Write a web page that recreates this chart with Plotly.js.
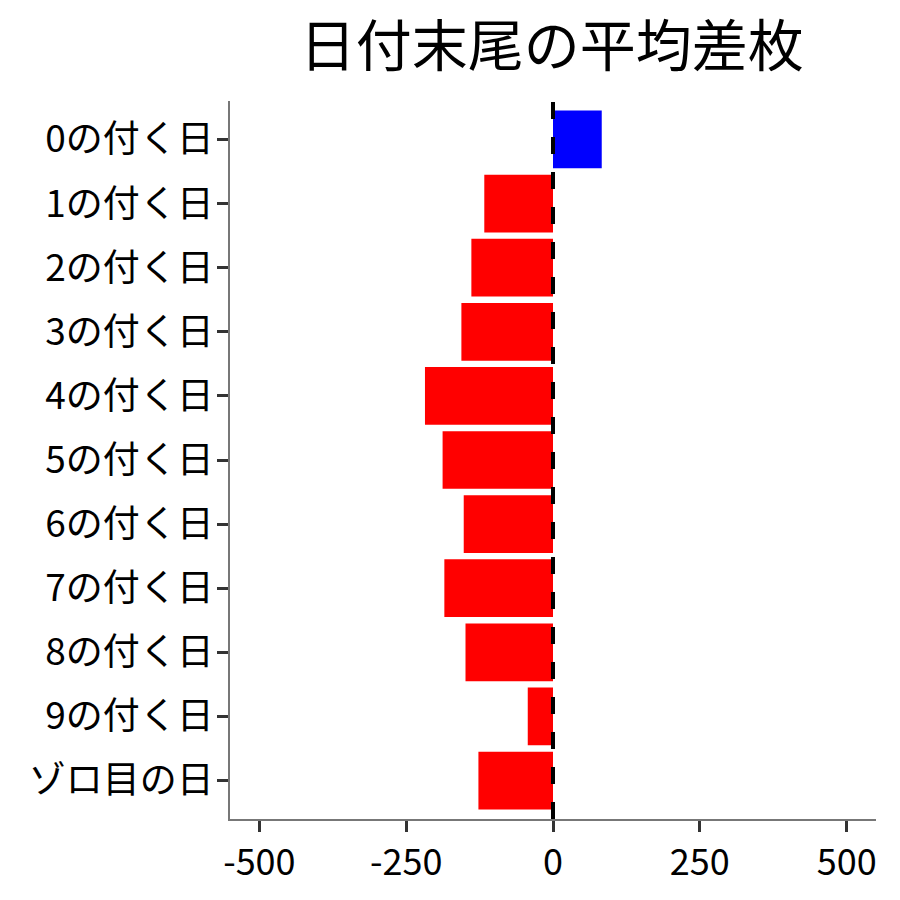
<!DOCTYPE html>
<html>
<head>
<meta charset="utf-8">
<script src="https://cdn.plot.ly/plotly-3.0.1.min.js"></script>
<style>body{margin:0;background:#fff}</style>
</head>
<body>
<div id="graphDiv" style="width:900px;height:900px"></div>
<script>
var days = ['0の付く日','1の付く日','2の付く日','3の付く日','4の付く日','5の付く日',
  '6の付く日','7の付く日','8の付く日','9の付く日','ゾロ目の日'];
var diff = [83, -117, -139, -156, -218, -188, -152, -185, -149, -43, -127];
var barColors = diff.map(function(v) { return v >= 0 ? '#0000ff' : '#ff0000'; });

var trace1 = {
  type: 'bar',
  orientation: 'h',
  x: diff,
  y: days,
  width: 0.9,
  marker: {color: barColors},
  hoverinfo: 'x+y'
};

var layout = {
  width: 900,
  height: 900,
  title: {
    text: '日付末尾の平均差枚',
    font: {family: 'Noto Sans CJK JP', size: 56, color: '#000'},
    x: 0.613, xanchor: 'center',
    y: 0.948, yanchor: 'middle'
  },
  font: {family: 'Noto Sans CJK JP', color: '#000'},
  paper_bgcolor: '#fff',
  plot_bgcolor: '#fff',
  showlegend: false,
  margin: {l: 230, r: 24, t: 101, b: 81},
  xaxis: {
    range: [-550, 550],
    tickvals: [-500, -250, 0, 250, 500],
    ticktext: ['-500', '-250', '0', '250', '500'],
    showgrid: false,
    zeroline: false,
    showline: true,
    linecolor: '#777',
    linewidth: 1.5,
    ticks: 'outside',
    ticklen: 11,
    tickwidth: 3,
    tickcolor: '#333',
    tickfont: {size: 36, color: '#000'}
  },
  yaxis: {
    type: 'category',
    categoryorder: 'array',
    categoryarray: days,
    range: [10.6, -0.6],
    showgrid: false,
    zeroline: false,
    showline: true,
    linecolor: '#777',
    linewidth: 1.5,
    ticks: 'outside',
    ticklen: 11,
    tickwidth: 3,
    tickcolor: '#333',
    ticklabelstandoff: -4,
    tickfont: {size: 37, color: '#000'}
  },
  shapes: [{
    type: 'line',
    xref: 'x', yref: 'paper',
    x0: 0, x1: 0, y0: 0, y1: 1,
    layer: 'above',
    line: {color: '#000', width: 4, dash: '17px,18px'}
  }]
};

Plotly.newPlot('graphDiv', [trace1], layout, {displayModeBar: false});
</script>
</body>
</html>
